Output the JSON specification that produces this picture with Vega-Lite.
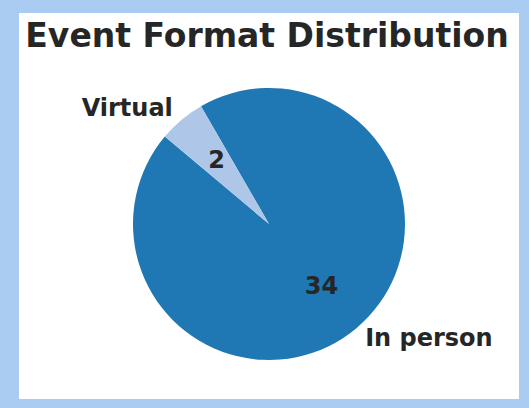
{
  "$schema": "https://vega.github.io/schema/vega-lite/v6.json",
  "width": 500,
  "height": 386,
  "autosize": {"type": "none"},
  "padding": {"left": 19, "right": 10, "top": 13, "bottom": 9},
  "background": "#aacbf2",
  "view": {"fill": "white", "stroke": null},
  "title": {
    "text": "Event Format Distribution",
    "font": "DejaVu Sans",
    "fontSize": 33,
    "fontWeight": "bold",
    "color": "#262626",
    "anchor": "middle",
    "baseline": "alphabetic",
    "offset": -67,
    "dx": -2
  },
  "data": {
    "values": [
      {"format": "In person", "count": 34},
      {"format": "Virtual", "count": 2}
    ]
  },
  "encoding": {
    "theta": {"field": "count", "type": "quantitative", "stack": true, "scale": {"range": [5.759587, 12.042772]}},
    "order": {"field": "format", "sort": "ascending"}
  },
  "layer": [
    {
      "mark": {"type": "arc", "radius": 136, "yOffset": 18},
      "encoding": {
        "color": {"field": "format", "type": "nominal", "scale": {"domain": ["In person", "Virtual"], "range": ["#1f77b4", "#aec7e8"]}, "legend": null}
      }
    },
    {
      "mark": {"type": "text", "radius": 81.6, "yOffset": 18, "font": "DejaVu Sans", "fontSize": 24, "fontWeight": "bold", "color": "#262626", "align": "center", "baseline": "middle"},
      "encoding": {"text": {"field": "count", "type": "quantitative"}}
    },
    {
      "mark": {"type": "text", "radius": 149.6, "yOffset": 18, "font": "DejaVu Sans", "fontSize": 24, "fontWeight": "bold", "color": "#262626", "align": "right", "baseline": "middle"},
      "encoding": {"text": {"condition": {"test": "datum.format === 'Virtual'", "field": "format"}, "value": ""}}
    },
    {
      "mark": {"type": "text", "radius": 149.6, "yOffset": 18, "font": "DejaVu Sans", "fontSize": 24, "fontWeight": "bold", "color": "#262626", "align": "left", "baseline": "middle"},
      "encoding": {"text": {"condition": {"test": "datum.format === 'In person'", "field": "format"}, "value": ""}}
    }
  ]
}
